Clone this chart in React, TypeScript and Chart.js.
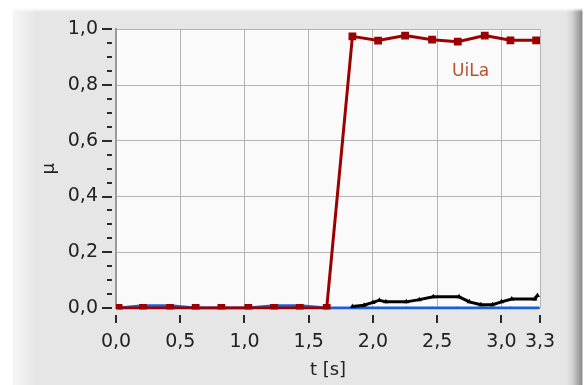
import React, { useEffect, useRef } from 'react';
import { Chart, registerables } from 'chart.js';

Chart.register(...registerables);

// ---- data ----
const redT = [0.02, 0.21, 0.42, 0.62, 0.82, 1.03, 1.23, 1.43, 1.64, 1.84, 2.04, 2.25, 2.46, 2.66, 2.87, 3.07, 3.27];
const redV = [0, 0, 0, 0, 0, 0, 0, 0, 0, 0.975, 0.96, 0.978, 0.963, 0.956, 0.978, 0.961, 0.961];

const blackT = [1.84, 1.93, 2.0, 2.05, 2.1, 2.26, 2.36, 2.47, 2.67, 2.75, 2.84, 2.93, 3.0, 3.08, 3.26, 3.28];
const blackV = [0.005, 0.01, 0.02, 0.028, 0.022, 0.022, 0.03, 0.04, 0.04, 0.022, 0.012, 0.012, 0.022, 0.032, 0.032, 0.045];

const blueT = [0.02, 0.21, 0.42, 0.62, 0.82, 1.03, 1.23, 1.43, 1.64, 1.84, 2.04, 2.26, 2.46, 2.66, 2.87, 3.07, 3.29];
const blueV = [0, 0.008, 0.008, 0, 0, 0, 0.008, 0.008, 0, 0, 0, 0, 0, 0, 0, 0, 0];

const xTickValues = [0, 0.5, 1.0, 1.5, 2.0, 2.5, 3.0, 3.3];
const yTickValues = [0, 0.2, 0.4, 0.6, 0.8, 1.0];
const yMinorStep = 0.05;
const seriesLabel = 'UiLa';
const seriesLabelAt = { x: 2.76, y: 0.85 };
const xTitle = 't [s]';
const yTitle = 'μ';

const fmt = (v: number) => v.toFixed(1).replace('.', ',');
const pts = (t: number[], v: number[]) => t.map((x, i) => ({ x, y: v[i] }));

const FONT = '"DejaVu Sans", Verdana, sans-serif';
const CLIP = { left: 0, top: 0, right: 0, bottom: 1.5 };

const decor = {
  id: 'decor',
  beforeDraw(chart: any) {
    const { ctx, chartArea: a } = chart;
    ctx.save();
    ctx.fillStyle = '#fafafa';
    ctx.fillRect(a.left, a.top, a.right - a.left, a.bottom - a.top);
    ctx.restore();
  },
  afterDraw(chart: any) {
    const { ctx, chartArea: a, scales } = chart;
    const ys = scales.y;
    const xs = scales.x;
    ctx.save();
    ctx.fillStyle = '#2a2a2a';
    const n = Math.round((ys.max - ys.min) / yMinorStep);
    for (let i = 0; i <= n; i++) {
      const v = ys.min + i * yMinorStep;
      const py = Math.round(ys.getPixelForValue(v));
      const major = yTickValues.some((t) => Math.abs(t - v) < 1e-6);
      const len = major ? 10 : 5;
      ctx.fillRect(a.left - 4 - len, py - 1, len, 2);
    }
    for (const v of xTickValues) {
      const px = Math.round(xs.getPixelForValue(v));
      ctx.fillRect(px - 1, a.bottom + 7, 2, 8);
    }
    ctx.fillStyle = '#b5532b';
    ctx.font = `17px ${FONT}`;
    ctx.textAlign = 'center';
    ctx.textBaseline = 'middle';
    ctx.fillText(seriesLabel, xs.getPixelForValue(seriesLabelAt.x), ys.getPixelForValue(seriesLabelAt.y));
    ctx.restore();
  },
};

export default function App() {
  const ref = useRef<HTMLCanvasElement>(null);
  useEffect(() => {
    if (!ref.current) return;
    const chart = new Chart(ref.current, {
      type: 'line',
      data: {
        datasets: [
          {
            label: 'red',
            data: pts(redT, redV),
            borderColor: '#9c0000',
            backgroundColor: '#9c0000',
            borderWidth: 3,
            pointStyle: 'rect',
            pointRadius: 5.5,
            pointBorderWidth: 0,
            tension: 0,
            clip: CLIP,
          },
          {
            label: 'black',
            data: pts(blackT, blackV),
            borderColor: '#000000',
            backgroundColor: '#000000',
            borderWidth: 3,
            pointStyle: 'triangle',
            pointRadius: 3,
            pointBorderWidth: 0,
            tension: 0,
            clip: CLIP,
          },
          {
            label: 'blue',
            data: pts(blueT, blueV),
            borderColor: '#1f5fd6',
            backgroundColor: '#1f5fd6',
            borderWidth: 3,
            pointStyle: 'triangle',
            pointRadius: 2,
            pointBorderWidth: 0,
            tension: 0,
            clip: CLIP,
          },
        ],
      },
      options: {
        responsive: false,
        animation: false,
        devicePixelRatio: 1,
        layout: { padding: { left: 0, top: 28, right: 45, bottom: 0 } },
        plugins: { legend: { display: false }, tooltip: { enabled: false } },
        scales: {
          x: {
            type: 'linear',
            min: 0,
            max: 3.3,
            afterBuildTicks: (s: any) => {
              s.ticks = xTickValues.map((v) => ({ value: v }));
            },
            afterFit: (s: any) => {
              s.height = 77;
            },
            ticks: {
              callback: (v: any) => fmt(Number(v)),
              font: { family: FONT, size: 19 },
              color: '#222',
              padding: 23,
              maxRotation: 0,
              autoSkip: false,
            },
            grid: { color: '#b4b4b4', lineWidth: 1, drawTicks: false },
            border: { display: false },
            title: {
              display: true,
              text: xTitle,
              font: { family: FONT, size: 18 },
              color: '#222',
              padding: { top: 0, bottom: 4 },
            },
          },
          y: {
            type: 'linear',
            min: 0,
            max: 1,
            afterBuildTicks: (s: any) => {
              s.ticks = yTickValues.map((v) => ({ value: v }));
            },
            afterFit: (s: any) => {
              s.width = 116;
            },
            ticks: {
              callback: (v: any) => fmt(Number(v)),
              font: { family: FONT, size: 19 },
              color: '#222',
              padding: 18,
              autoSkip: false,
            },
            grid: { color: '#b4b4b4', lineWidth: 1, drawTicks: false },
            border: { display: true, color: '#9a9a9a', width: 2 },
            title: {
              display: true,
              text: yTitle,
              font: { family: FONT, size: 18 },
              color: '#222',
              padding: { top: 39, bottom: 0 },
            },
          },
        },
      },
      plugins: [decor],
    } as any);
    return () => chart.destroy();
  }, []);

  return (
    <div
      style={{
        position: 'fixed',
        left: 0,
        top: 0,
        width: 585,
        height: 385,
        background: [
          'linear-gradient(to bottom, #ffffff 0px, #ffffff 8px, rgba(255,255,255,0) 12px)',
          'linear-gradient(to right, rgba(230,230,230,0) 566px, #d4d4d4 572px, #8c8c8c 582px, #ffffff 583px)',
          'linear-gradient(to right, #ffffff 0px, #ffffff 12px, #f6f6f6 13px, #e6e6e6 36px, rgba(230,230,230,0) 36px)',
          '#e6e6e6',
        ].join(', '),
      }}
    >
      <canvas ref={ref} width={585} height={385} style={{ display: 'block' }} />
    </div>
  );
}
